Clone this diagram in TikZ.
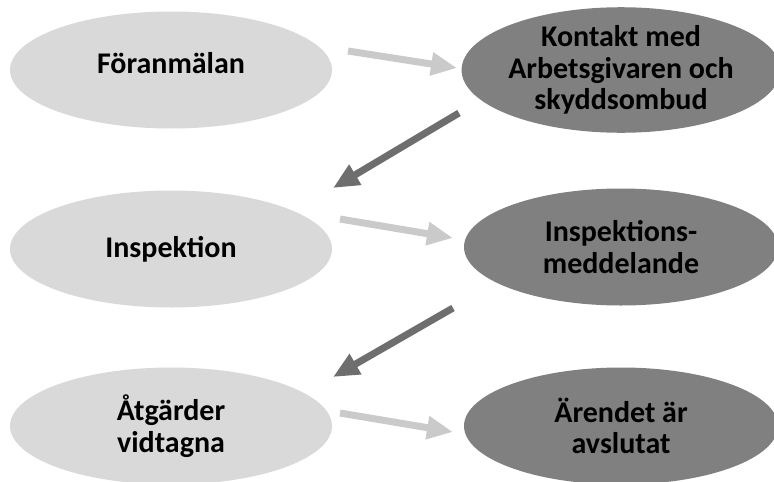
\documentclass[tikz,border=0pt]{standalone}
\usepackage{fontspec}
\setmainfont{Carlito}
\usetikzlibrary{arrows.meta,shapes.geometric}
\definecolor{elllight}{HTML}{D9D9D9}
\definecolor{elldark}{HTML}{808080}
\definecolor{arrlight}{HTML}{CACACA}
\definecolor{arrdark}{HTML}{6E6E6E}
\tikzset{
  elltext/.style={ellipse, inner sep=0pt, align=center, minimum height=117pt, font=\fontsize{30}{31.5}\selectfont\bfseries},
  lightell/.style={elltext, fill=elllight, minimum width=322pt},
  darkell/.style={elltext, fill=elldark, minimum width=314pt},
  lightarr/.style={draw=arrlight, line width=7pt, -{Triangle[width=22pt,length=26pt]}, arrlight},
  darkarr/.style={draw=arrdark, line width=7pt, -{Triangle[width=22pt,length=26pt]}, arrdark},
}
\begin{document}
\begin{tikzpicture}[x=1pt,y=-1pt]
\useasboundingbox (0,0) rectangle (774,482);
\node[lightell] (a) at (171,70) {\raisebox{7pt}[\height][\depth]{Föranmälan}};
\node[darkell]  (b) at (621,70) {Kontakt med\\Arbetsgivaren och\\skyddsombud};
\node[lightell] (c) at (171,249) {Inspektion};
\node[darkell]  (d) at (621,247) {Inspektions-\\meddelande};
\node[lightell] (e) at (171,426) {Åtgärder\\vidtagna};
\node[darkell]  (f) at (621,426) {Ärendet är\\avslutat};
\coordinate (a1s) at (348,51);
\coordinate (a1e) at (457,68);
\coordinate (d1s) at (459,113);
\coordinate (d1e) at (333,188);
\coordinate (a2s) at (340,219);
\coordinate (a2e) at (453,238);
\coordinate (d2s) at (453,308);
\coordinate (d2e) at (333,377);
\coordinate (a3s) at (340,413);
\coordinate (a3e) at (453,432);
\draw[lightarr] (a1s) -- (a1e);
\draw[darkarr] (d1s) -- (d1e);
\draw[lightarr] (a2s) -- (a2e);
\draw[darkarr] (d2s) -- (d2e);
\draw[lightarr] (a3s) -- (a3e);
\end{tikzpicture}
\end{document}
